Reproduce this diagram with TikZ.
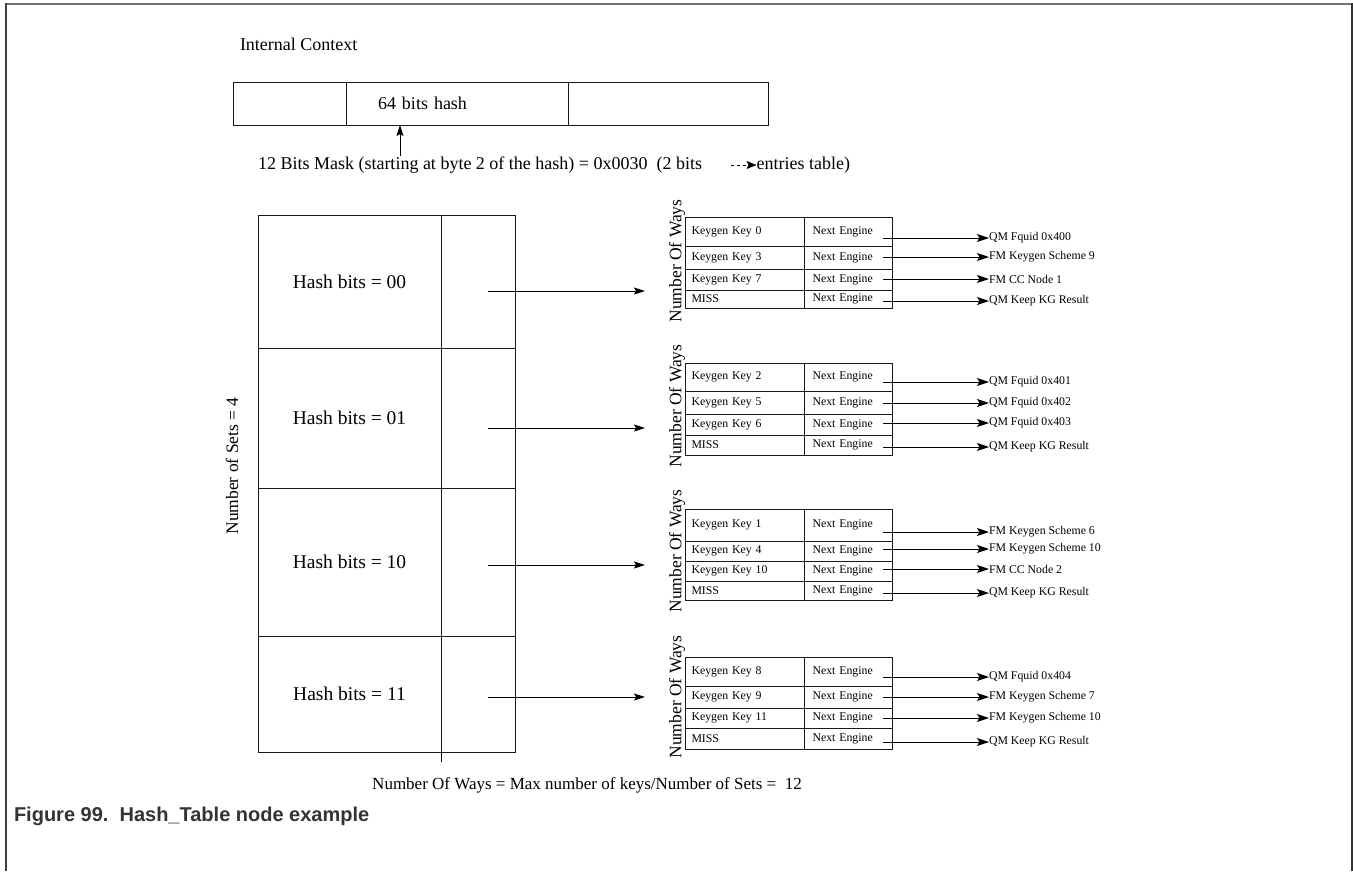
\documentclass[tikz,border=0pt]{standalone}
\usepackage{fontspec}
\setmainfont{Liberation Serif}
\newfontfamily\capfont{Liberation Sans}
\usetikzlibrary{arrows.meta,calc}
\newcommand\fsBig{\fontsize{18}{21}\selectfont}
\newcommand\fsMid{\fontsize{17.5}{20}\selectfont}
\newcommand\fsBot{\fontsize{17}{20}\selectfont}
\newcommand\fsHash{\fontsize{19.5}{22}\selectfont}
\newcommand\fsSmall{\fontsize{11.8}{13}\selectfont}
\newcommand\fsCap{\capfont\bfseries\fontsize{20}{23}\selectfont}
\newcommand\wrow[6]{%
  \node[lcell, minimum height=#3pt, anchor=north west] (#1l) at (685,#2) {#4};
  \node[rcell, minimum height=#3pt, anchor=north west] (#1r) at (804,#2) {Next Engine};
  \node[outl] (#1t) at (989,#5) {#6};
  \draw[sarr] ($(#1t.west -| #1r.east)+(-9,0)$) -- (#1t.west);
}
\begin{document}
\begin{tikzpicture}[x=1pt,y=-1pt,line width=1pt,
  every node/.style={inner sep=0pt,outer sep=0pt},
  cell/.style={draw=black!90,line width=1pt,rectangle,inner sep=0pt},
  lcell/.style={cell,font=\fsSmall,text width=106pt,inner xsep=6.5pt,align=left},
  rcell/.style={cell,font=\fsSmall,text width=71pt,inner xsep=8.5pt,align=left},
  outl/.style={font=\fsSmall,anchor=west},
  arr/.style={line width=1pt,-{Stealth[length=11pt,width=7pt,inset=2pt]}},
  sarr/.style={line width=1pt,-{Stealth[length=12pt,width=8pt,inset=2.5pt]}},
  ways/.style={rotate=90,font=\fsMid}
]
\useasboundingbox (0,0) rectangle (1353,871);
% frame
\draw[line width=2.4pt,draw=black!55] (5,4) -- (1352,4);
\draw[line width=2.4pt,draw=black!75] (6,871) -- (6,3);
\draw[line width=1.6pt,draw=black!80] (1352,3) -- (1352,871);

% internal context
\node[anchor=west,font=\fsBig] (ic) at (240,44) {Internal Context};
\node[cell,minimum width=113pt,minimum height=43pt,anchor=north west] (ctx1) at (233,82) {};
\node[cell,minimum height=43pt,anchor=north west,text width=158pt,inner xsep=32pt,align=left,font=\fsBig] (ctx2) at (346,82) {64 bits hash};
\node[cell,minimum width=200pt,minimum height=43pt,anchor=north west] (ctx3) at (568,82) {};

% mask text
\node[anchor=west,font=\fsBig] (m1) at (258,165) {12 Bits Mask (starting at byte 2 of the hash) = 0x0030\ \ (2 bits};
\node[anchor=east,font=\fsBig] (m2) at (850,165) {entries table)};
\draw[line width=0.9pt,dash pattern=on 3pt off 3pt,-{Stealth[length=10pt,width=8pt,inset=2pt]}] ($(m2.west)+(-26,0)$) -- (m2.west);
\coordinate (mk) at (400,156);
\draw[arr] (mk) -- (mk |- ctx2.south);

% big table
\node[cell,minimum width=183pt,minimum height=133pt,anchor=north west,font=\fsHash] (h1l) at (258,215) {Hash bits = 00};
\node[cell,minimum width=74pt,minimum height=133pt,anchor=north west] (h1r) at (441,215) {};
\node[cell,minimum width=183pt,minimum height=140pt,anchor=north west,font=\fsHash] (h2l) at (258,348) {Hash bits = 01};
\node[cell,minimum width=74pt,minimum height=140pt,anchor=north west] (h2r) at (441,348) {};
\node[cell,minimum width=183pt,minimum height=148pt,anchor=north west,font=\fsHash] (h3l) at (258,488) {Hash bits = 10};
\node[cell,minimum width=74pt,minimum height=148pt,anchor=north west] (h3r) at (441,488) {};
\node[cell,minimum width=183pt,minimum height=116pt,anchor=north west,font=\fsHash] (h4l) at (258,636) {Hash bits = 11};
\node[cell,minimum width=74pt,minimum height=116pt,anchor=north west] (h4r) at (441,636) {};
\draw (h4r.south west) -- ++(0,10);

\node[rotate=90,font=\fsMid] (sets) at (232,466) {Number of Sets = 4};

% arrows to way tables
\coordinate (e1) at (645,291);
\coordinate (e2) at (645,428);
\coordinate (e3) at (645,565);
\coordinate (e4) at (645,697);
\draw[arr] ($(e1 -| h1r.center)+(10,0)$) -- (e1);
\draw[arr] ($(e2 -| h2r.center)+(10,0)$) -- (e2);
\draw[arr] ($(e3 -| h3r.center)+(10,0)$) -- (e3);
\draw[arr] ($(e4 -| h4r.center)+(10,0)$) -- (e4);

% way labels
\node[ways] (w1) at (677,261) {Number Of Ways};
\node[ways] (w2) at (677,406) {Number Of Ways};
\node[ways] (w3) at (677,551) {Number Of Ways};
\node[ways] (w4) at (677,697) {Number Of Ways};

% table 1
\wrow{a1}{217}{29}{Keygen Key 0}{238}{QM Fquid 0x400}
\wrow{a2}{246}{23}{Keygen Key 3}{257}{FM Keygen Scheme 9}
\wrow{a3}{269}{21}{Keygen Key 7}{279}{FM CC Node 1}
\wrow{a4}{290}{18}{MISS}{301}{QM Keep KG Result}
% table 2
\wrow{b1}{363}{28}{Keygen Key 2}{382}{QM Fquid 0x401}
\wrow{b2}{391}{23}{Keygen Key 5}{403}{QM Fquid 0x402}
\wrow{b3}{414}{21}{Keygen Key 6}{423}{QM Fquid 0x403}
\wrow{b4}{435}{20}{MISS}{447}{QM Keep KG Result}
% table 3
\wrow{c1}{509}{32}{Keygen Key 1}{532}{FM Keygen Scheme 6}
\wrow{c2}{541}{20}{Keygen Key 4}{549}{FM Keygen Scheme 10}
\wrow{c3}{561}{20}{Keygen Key 10}{569}{FM CC Node 2}
\wrow{c4}{581}{19}{MISS}{593}{QM Keep KG Result}
% table 4
\wrow{d1}{657}{29}{Keygen Key 8}{677}{QM Fquid 0x404}
\wrow{d2}{686}{22}{Keygen Key 9}{697}{FM Keygen Scheme 7}
\wrow{d3}{708}{20}{Keygen Key 11}{718}{FM Keygen Scheme 10}
\wrow{d4}{728}{21}{MISS}{742}{QM Keep KG Result}

% bottom text
\node[font=\fsBot] (nw) at (587,785) {Number Of Ways = Max number of keys/Number of Sets =\ \ 12};
\node[anchor=west,font=\fsCap,text=black!80] (cap) at (14,816) {Figure 99.\ \ Hash\_Table node example};
\end{tikzpicture}
\end{document}
